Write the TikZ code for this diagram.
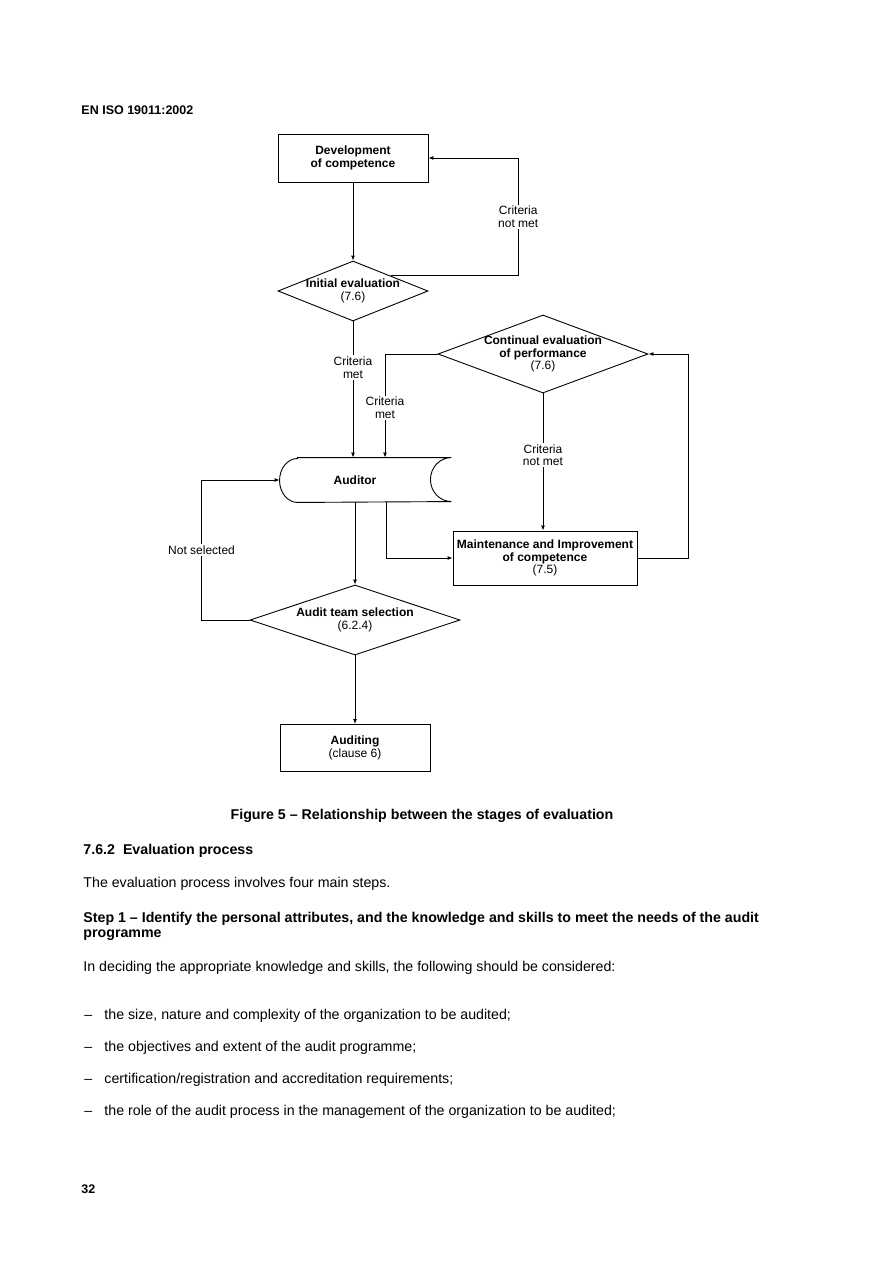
\documentclass[tikz,border=0pt]{standalone}
\usepackage{fontspec}
\setmainfont{Liberation Sans}
\usetikzlibrary{shapes.geometric, arrows.meta}

\tikzset{
  >={Latex[length=5pt,width=4pt]},
  proc/.style={draw, rectangle, align=center, inner sep=2pt, font=\fontsize{12}{12.7}\selectfont\bfseries},
  decision/.style={draw, diamond, shape aspect=2.5, inner xsep=-20pt, inner ysep=-10pt, align=center, font=\fontsize{12}{12.7}\selectfont\bfseries},
  lbl/.style={fill=white, align=center, inner sep=1.5pt, font=\fontsize{12}{12.7}\selectfont},
  body/.style={anchor=base west, inner sep=0pt, align=left, font=\fontsize{14.2}{15}\selectfont},
  bodybf/.style={body, font=\fontsize{14.2}{15}\selectfont\bfseries},
}

\begin{document}
\begin{tikzpicture}[x=1pt, y=-1pt, line width=0.9pt]
\useasboundingbox (0,0) rectangle (893,1262);

% page header
\node[body, font=\fontsize{12.5}{15}\selectfont\bfseries] (hdr) at (81,114) {EN ISO 19011:2002};

% flowchart
\node[proc, minimum width=150pt, minimum height=48pt] (dev) at (353,158) {Development\\of competence};
\node[decision, minimum width=150pt, minimum height=60pt] (init) at (353,291) {Initial evaluation\\{\mdseries (7.6)}};
\node[decision, minimum width=210pt, minimum height=78pt] (cont) at (543,354) {Continual evaluation\\of performance\\{\mdseries (7.6)}};
\node[font=\fontsize{12}{12.7}\selectfont\bfseries, minimum width=150pt, minimum height=44pt, inner sep=0pt] (aud) at (355,480) {Auditor};
\node[proc, minimum width=184pt, minimum height=54pt] (maint) at (545,558) {Maintenance and Improvement\\of competence\\{\mdseries (7.5)}};
\node[decision, minimum width=210pt, minimum height=70pt] (team) at (355,620) {Audit team selection\\{\mdseries (6.2.4)}};
\node[proc, minimum width=150pt, minimum height=47pt] (audit) at (355,748) {Auditing\\{\mdseries (clause 6)}};

% auditor outline
\draw ([xshift=18pt]aud.north west) -- ([xshift=21pt]aud.north east)
  arc[start angle=90, end angle=270, x radius=21pt, y radius=22pt]
  -- ([xshift=18pt]aud.south west)
  arc[start angle=270, end angle=90, x radius=18pt, y radius=22pt] -- cycle;

% connectors
\draw[->] (dev.south) -- (init.north);
\draw[->] (init.north east) -- ++(127.5,0) |- node[lbl, pos=0.25] {Criteria\\not met} (dev.east);
\draw[->] (init.south) -- node[lbl, pos=0.34] {Criteria\\met} (init.south |- aud.north);
\draw[->] (cont.west) -| node[lbl, pos=0.76] {Criteria\\met} ([xshift=30pt]aud.north);
\draw[->] (cont.south) -- node[lbl, pos=0.45] {Criteria\\not met} (cont.south |- maint.north);
\draw[->] (maint.east) -- ++(51,0) |- (cont.east);
\draw[->] ([xshift=31pt]aud.south) |- (maint.west);
\draw[->] (aud.south) -- (team.north);
\draw[->] (team.west) -- ++(-48,0) |- node[lbl, pos=0.25] {Not selected} (aud.west);
\draw[->] (team.south) -- (audit.north);

% caption and text
\node[bodybf, anchor=base] (cap) at (422,819) {Figure 5 -- Relationship between the stages of evaluation};
\node[bodybf] (sec) at (83,854) {7.6.2\hspace{8pt}Evaluation process};
\node[body] (intro) at (83,887) {The evaluation process involves four main steps.};
\node[bodybf] (step) at (83,937) {Step 1 -- Identify the personal attributes, and the knowledge and skills to meet the needs of the audit\\programme};
\node[body] (consid) at (83,971) {In deciding the appropriate knowledge and skills, the following should be considered:};
\node[body] (b1) at (84,1019) {\makebox[20pt][l]{--}the size, nature and complexity of the organization to be audited;};
\node[body] (b2) at (84,1051) {\makebox[20pt][l]{--}the objectives and extent of the audit programme;};
\node[body] (b3) at (84,1083) {\makebox[20pt][l]{--}certification/registration and accreditation requirements;};
\node[body] (b4) at (84,1115) {\makebox[20pt][l]{--}the role of the audit process in the management of the organization to be audited;};
\node[body, font=\fontsize{12.5}{15}\selectfont\bfseries] (pg) at (81,1193) {32};
\end{tikzpicture}
\end{document}
